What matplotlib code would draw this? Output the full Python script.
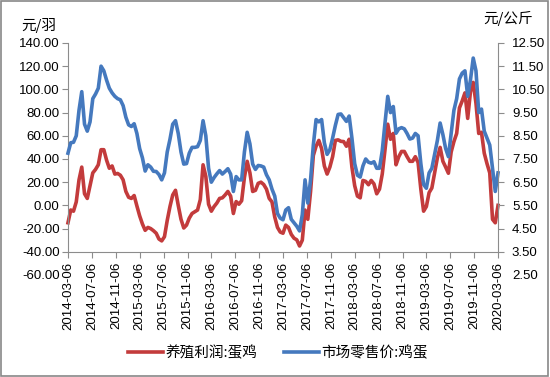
import pandas as pd
import matplotlib
matplotlib.use('Agg')
from matplotlib import pyplot as plt
from matplotlib.patches import Rectangle

plt.rcParams['font.family'] = ['Liberation Sans', 'Noto Sans CJK SC']

# 2014-03-06 .. 2020-03-06, roughly every two weeks
dates = pd.date_range('2014-03-06', '2020-03-06', periods=157)

# 养殖利润:蛋鸡 (元/羽, left axis)
profit = [
    -15, -4, -5, 3, 22, 33, 10, 6, 17, 28, 31, 35, 48, 48, 39, 32, 34, 27, 27.5, 26,
    22, 12, 7, 6, 8.5, -0.5, -9, -16, -21.5, -19, -20, -21.8, -24, -29, -30.6, -27, -13, -1, 9, 13,
    0, -12, -19.5, -17, -11, -7, -5.5, -4, 5, 35, 25, 1, -5, -1, 2, 6, 6.5, 9, 12, 8,
    -7, 3.3, 1, 4, 24, 38, 28, 12, 13, 19, 20, 18, 14, 6, 3, -10, -19, -23, -24, -17,
    -19, -25, -28.3, -29.7, -35, -30, -4, -12, 12, 43, 51, 56, 49, 34, 27, 33, 42, 56, 56.5, 55.2,
    55, 51, 57, 33, 17, 8, 6.5, 21.5, 20.7, 17.8, 21.5, 18.5, 10, 14, 27, 48, 70, 57, 62, 35,
    42, 46.5, 46.5, 42, 38, 38, 42, 37, 14, -5, -1, 11, 15, 28, 41, 50, 38, 33, 27.7, 46,
    55, 62, 84, 90, 97, 75, 98, 106, 88, 62, 63, 45, 36, 28, -12, -15, 0,
]

# 市场零售价:鸡蛋 (元/公斤, right axis)
price = [
    7.75, 8.2, 8.22, 8.5, 9.6, 10.4, 9.0, 8.7, 9.1, 10.1, 10.3, 10.55, 11.5, 11.3, 10.9, 10.55, 10.35, 10.2, 10.1, 10.05,
    9.8, 9.3, 8.97, 8.9, 9.02, 8.6, 7.95, 7.55, 6.98, 7.25, 7.15, 6.97, 6.96, 6.83, 6.6, 6.9, 7.8, 8.35, 9.0, 9.15,
    8.6, 7.8, 7.28, 7.3, 7.75, 8.0, 8.0, 8.03, 8.3, 9.15, 8.5, 7.1, 6.5, 6.7, 6.86, 7.0, 6.85, 6.96, 7.08, 6.85,
    6.1, 6.74, 6.6, 6.6, 7.8, 8.65, 8.15, 7.28, 7.05, 7.22, 7.2, 7.15, 6.82, 6.6, 6.2, 5.9, 5.15, 4.95, 4.88, 5.3,
    5.4, 4.9, 4.75, 4.6, 4.4, 5.1, 6.6, 5.6, 6.6, 8.1, 9.2, 9.1, 9.2, 8.2, 7.7, 7.9, 8.4, 8.95, 9.42, 9.44,
    9.28, 9.12, 9.35, 8.4, 7.3, 6.8, 6.72, 7.2, 7.5, 7.36, 7.32, 7.38, 7.1, 7.1, 7.85, 9.05, 10.2, 9.5, 9.76, 8.61,
    8.8, 8.85, 8.8, 8.6, 8.36, 8.4, 8.6, 8.5, 7.3, 6.4, 6.24, 6.9, 7.1, 7.7, 8.3, 9.05, 8.55, 7.95, 7.6, 8.6,
    9.6, 10.1, 10.95, 11.2, 11.3, 10.2, 10.9, 11.85, 11.3, 9.5, 9.65, 8.7, 8.4, 8.1, 7.1, 6.1, 6.9,
]

left_ticks = list(range(-60, 141, 20))
right_ticks = [2.5 + i for i in range(11)]
x_ticks = pd.date_range('2014-03-06', '2020-03-06', freq=pd.DateOffset(months=4))

red = '#C33B3C'
blue = '#4579BE'
grey = '#8C8C8C'

fig = plt.figure(figsize=(5.5, 3.77), dpi=100)
ax = fig.add_axes([0.1236, 0.2706, 0.7819, 0.6154])
ax2 = ax.twinx()

ax.plot(dates, profit, color=red, lw=2.6, clip_on=False, solid_joinstyle='round')
ax2.plot(dates, price, color=blue, lw=2.6, clip_on=False, solid_joinstyle='round')

ax.set_xlim(pd.Timestamp('2014-03-06'), pd.Timestamp('2020-03-06'))
ax.set_ylim(-60, 140)
ax2.set_ylim(2.5, 12.5)

for a in (ax, ax2):
    a.spines['top'].set_visible(False)
    for s in a.spines.values():
        s.set_color(grey)
        s.set_linewidth(0.8)
ax.spines['right'].set_visible(False)
ax2.spines['left'].set_visible(False)
ax2.spines['bottom'].set_visible(False)
ax.spines['bottom'].set_position(('data', -40))
ax.spines['left'].set_bounds(-40, 140)
ax2.spines['right'].set_bounds(3.5, 12.5)

ax.set_yticks(left_ticks)
ax.set_yticklabels(['%.2f' % v for v in left_ticks])
ax2.set_yticks(right_ticks)
ax2.set_yticklabels(['%.2f' % v for v in right_ticks])
ax.yaxis.get_major_ticks()[0].tick1line.set_visible(False)
ax2.yaxis.get_major_ticks()[0].tick2line.set_visible(False)

ax.set_xticks(x_ticks)
ax.set_xticklabels([d.strftime('%Y-%m-%d') for d in x_ticks], rotation=90)

ax.tick_params(axis='both', direction='out', length=4, width=0.8, color=grey,
               labelsize=9.5, labelcolor='black', pad=2)
ax2.tick_params(axis='y', direction='out', length=4, width=0.8, color=grey,
                labelsize=9.5, labelcolor='black', pad=6)
ax.tick_params(axis='x', pad=3)

fig.text(0.038, 0.933, '元/羽', fontsize=10.5, family=['Noto Sans CJK SC'], va='center')
fig.text(0.878, 0.952, '元/公斤', fontsize=10.5, family=['Noto Sans CJK SC'], va='center')

h1, = ax.plot([], [], color=red, lw=2.6)
h2, = ax.plot([], [], color=blue, lw=2.6)
fig.legend([h1, h2], ['养殖利润:蛋鸡', '市场零售价:鸡蛋'], loc='center', bbox_to_anchor=(0.505, 0.064),
           ncol=2, frameon=False, handlelength=2.4, handletextpad=0.2, columnspacing=1.8,
           prop={'family': ['Noto Sans CJK SC'], 'size': 10.5})

fig.patches.append(Rectangle((0.002, 0.003), 0.995, 0.994, transform=fig.transFigure,
                             fill=False, edgecolor='#888888', lw=1.2))

fig.savefig('out.png', dpi=100)
